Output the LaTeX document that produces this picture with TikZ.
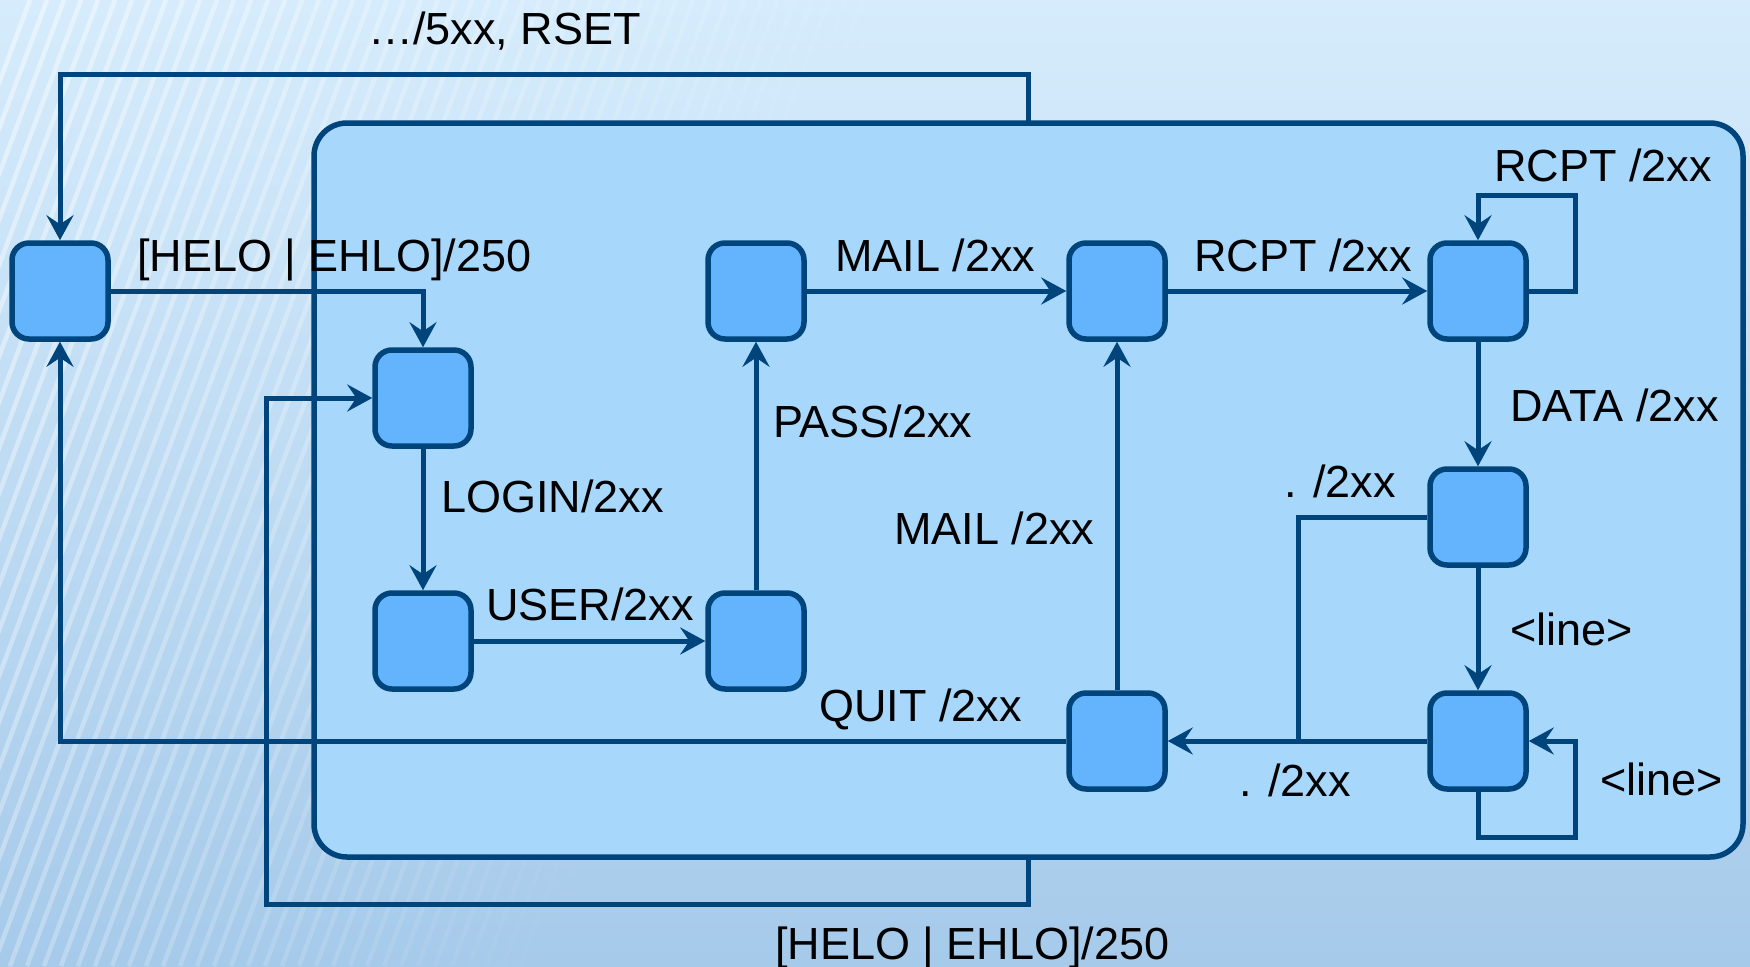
\documentclass[tikz,border=0pt]{standalone}
\usepackage{fontspec}
\setmainfont{Liberation Sans}
\usetikzlibrary{arrows.meta}
\definecolor{bgtop}{RGB}{214,236,252}
\definecolor{bgbot}{RGB}{166,202,234}
\definecolor{innerfill}{RGB}{168,215,252}
\definecolor{boxfill}{RGB}{99,180,253}
\definecolor{edgeblue}{RGB}{0,68,124}
\tikzset{
  stbox/.style={draw=edgeblue, fill=boxfill, line width=5.5pt, rounded corners=17pt,
    minimum size=96pt, inner sep=0pt},
  arr/.style={draw=edgeblue, line width=5pt,
    -{Stealth[length=25pt,width=27pt,inset=9pt]}},
  ln/.style={draw=edgeblue, line width=5pt},
  lbl/.style={font=\fontsize{45}{54}\selectfont, inner sep=0pt, anchor=base west, text=black}
}
\begin{document}
\begin{tikzpicture}[x=1pt,y=-1pt]
\useasboundingbox (0,0) rectangle (1750,966);
\shade[top color=bgtop,bottom color=bgbot] (0,0) rectangle (1750,966);
\begin{scope}
  \clip (0,0) rectangle (1750,966);
  \foreach \i in {0,...,55} {
    \pgfmathsetmacro\op{max(0,0.45-\i*0.0085)}
    \draw[white,opacity=\op,line width=4.5pt] (\i*17-330,966) -- ++(360,-966);
  }
\end{scope}
% container
\node[draw=edgeblue, fill=innerfill, line width=5.5pt, rounded corners=33pt,
  minimum width=1429pt, minimum height=734pt, inner sep=0pt] (big) at (1028.5,490) {};
% states
\node[stbox] (s0) at (60,291) {};
\node[stbox] (s1) at (423,398) {};
\node[stbox] (s2) at (423,641) {};
\node[stbox] (s3) at (756,641) {};
\node[stbox] (s4) at (756,291) {};
\node[stbox] (s5) at (1117,291) {};
\node[stbox] (s6) at (1478,291) {};
\node[stbox] (s7) at (1478,517) {};
\node[stbox] (s8) at (1478,741) {};
\node[stbox] (s9) at (1117,741) {};
% helper coordinates
\coordinate (tl) at (1028,123);
\coordinate (tc) at (60,74);
\coordinate (bl) at (1028,857);
\coordinate (bc) at (266,904);
\coordinate (l1) at (1575,195);
\coordinate (l2) at (1575,837);
\coordinate (jn) at (1298,741);
% connectors
\draw[arr] (tl) |- (tc) -- (s0.north);
\draw[arr] (bl) |- (bc) |- (s1.west);
\draw[arr] (s0.east) -| (s1.north);
\draw[arr] (s1.south) -- (s2.north);
\draw[arr] (s2.east) -- (s3.west);
\draw[arr] (s3.north) -- (s4.south);
\draw[arr] (s4.east) -- (s5.west);
\draw[arr] (s5.east) -- (s6.west);
\draw[arr] (s6.east) -| (l1) -| (s6.north);
\draw[arr] (s6.south) -- (s7.north);
\draw[arr] (s7.south) -- (s8.north);
\draw[arr] (s8.south) |- (l2) |- (s8.east);
\draw[arr] (s8.west) -- (s9.east);
\draw[ln] (s7.west) -| (jn);
\draw[arr] (s9.north) -- (s5.south);
\draw[arr] (s9.west) -| (s0.south);
% labels
\node[lbl] (t0) at (368,45) {…/5xx, RSET};
\node[lbl] (t1) at (137,271) {[HELO | EHLO]/250};
\node[lbl] (t2) at (441,512) {LOGIN/2xx};
\node[lbl] (t3) at (486,620) {USER/2xx};
\node[lbl] (t4) at (773,437) {PASS/2xx};
\node[lbl] (t5) at (835,271) {MAIL /2xx};
\node[lbl] (t6) at (894,544) {MAIL /2xx};
\node[lbl] (t7) at (1194,271) {RCPT /2xx};
\node[lbl] (t8) at (1494,181) {RCPT /2xx};
\node[lbl] (t9) at (1510,421) {DATA /2xx};
\node[lbl] (t10) at (1284,497) {. /2xx};
\node[lbl] (t11) at (1510,645) {<line>};
\node[lbl] (t12) at (1600,795) {<line>};
\node[lbl] (t13) at (1239,796) {. /2xx};
\node[lbl] (t14) at (819,721) {QUIT /2xx};
\node[lbl] (t15) at (775,959) {[HELO | EHLO]/250};
\end{tikzpicture}
\end{document}
